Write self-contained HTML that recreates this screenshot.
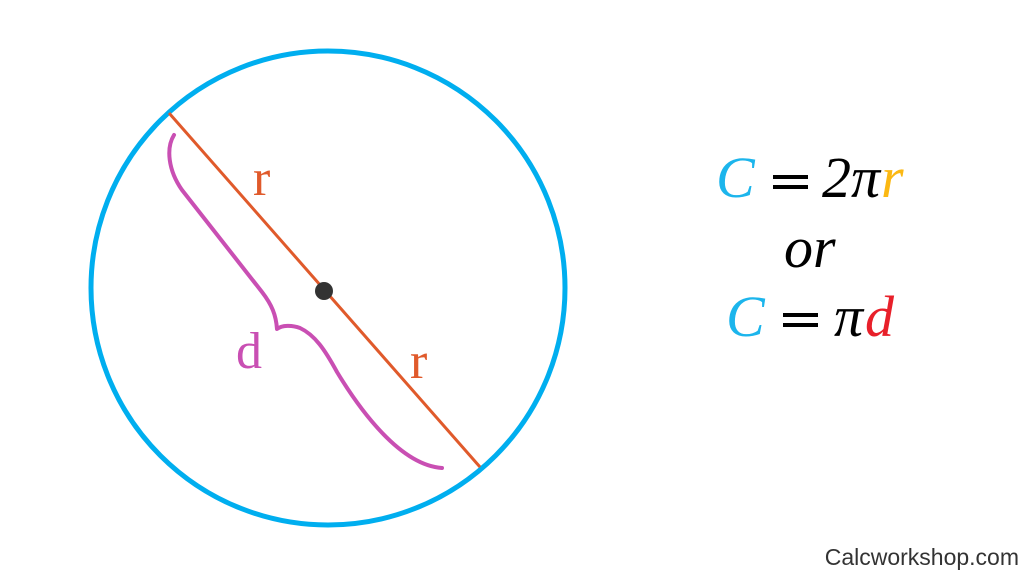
<!DOCTYPE html>
<html><head><meta charset="utf-8"><style>
html,body{margin:0;padding:0;background:#fff;}
svg{display:block;}
</style></head><body>
<svg width="1024" height="576" viewBox="0 0 1024 576" xmlns="http://www.w3.org/2000/svg">
<rect width="1024" height="576" fill="#fff"/>
<circle cx="328" cy="288" r="237" fill="none" stroke="#00AEEF" stroke-width="5"/>
<line x1="169" y1="113" x2="480" y2="467" stroke="#E05A2B" stroke-width="3"/>
<circle cx="324" cy="291" r="9" fill="#333"/>
<path d="M174,135 C166,148 168,170 182,190 L262,292 C272,305 276,315 277,329 C282,325 292,325 300,328 C315,335 325,350 337,372 C360,410 400,465 442,468" fill="none" stroke="#C94FB3" stroke-width="4" stroke-linecap="round" stroke-linejoin="round"/>
<g font-family="Liberation Serif, serif" font-size="52" fill="#E05A2B">
<text x="253" y="195">r</text>
<text x="410" y="378">r</text>
</g>
<text x="236" y="368" font-family="Liberation Serif, serif" font-size="52" fill="#C94FB3">d</text>
<g font-family="Liberation Serif, serif" font-style="italic" font-size="58">
<text x="716" y="197" fill="#1CB5EC">C</text>
<rect x="773" y="175" width="35" height="4" fill="#000"/>
<rect x="773" y="185" width="35" height="4" fill="#000"/>
<text x="822" y="197" fill="#000">2π</text>
<text x="881" y="197" fill="#FBB813">r</text>
<text x="784" y="267" fill="#000">or</text>
<text x="726" y="336" fill="#1CB5EC">C</text>
<rect x="783" y="313" width="35" height="4" fill="#000"/>
<rect x="783" y="323" width="35" height="4" fill="#000"/>
<text x="834" y="336" fill="#000">π</text>
<text x="865" y="336" fill="#E8202A">d</text>
</g>
<text x="1019" y="565" text-anchor="end" font-family="Liberation Sans, sans-serif" font-size="23" fill="#333">Calcworkshop.com</text>
</svg>
</body></html>
